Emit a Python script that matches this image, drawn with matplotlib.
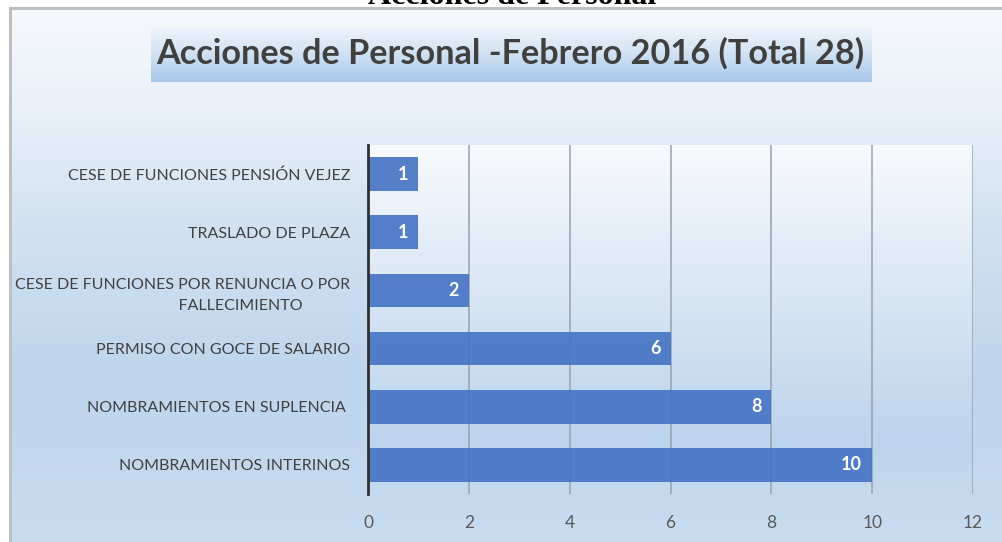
import numpy as np
import matplotlib
matplotlib.use("Agg")
import matplotlib.pyplot as plt
from matplotlib.colors import LinearSegmentedColormap

# ---------------- data ----------------
categories = [
    "NOMBRAMIENTOS INTERINOS",
    "NOMBRAMIENTOS EN SUPLENCIA ",
    "PERMISO CON GOCE DE SALARIO",
    "CESE DE FUNCIONES POR RENUNCIA O POR\n                            FALLECIMIENTO",
    "TRASLADO DE PLAZA",
    "CESE DE FUNCIONES PENSIÓN VEJEZ",
]
values = [10, 8, 6, 2, 1, 1]
xticks = [0, 2, 4, 6, 8, 10, 12]
title = "Acciones de Personal -Febrero 2016 (Total 28)"
doc_heading = "Acciones de Personal"

FONT = ["Lato", "DejaVu Sans"]
W, H = 1002, 542
fig = plt.figure(figsize=(W / 100, H / 100), dpi=100)
fig.patch.set_facecolor("white")

def fx(px):
    return px / W

def fy(py):
    return 1 - py / H

# ---------------- outer chart background ----------------
bg = fig.add_axes([fx(10), 0, 1 - fx(10), fy(8)], zorder=0)
bg_cmap = LinearSegmentedColormap.from_list(
    "bg", [(0, "#F6F9FD"), (0.2, "#E8F0F8"), (0.4, "#D2E2F2"), (0.7, "#BED5EC"), (1.0, "#C8DCF0")])
grad = np.linspace(0, 1, 256).reshape(-1, 1)
bg.imshow(grad, aspect="auto", cmap=bg_cmap, extent=[0, 1, 0, 1], origin="upper")
bg.set_axis_off()

# border lines
fig.add_artist(plt.Line2D([fx(10), 1], [fy(7.5), fy(7.5)], color="#BFBFBF", lw=2.2, zorder=1))
fig.add_artist(plt.Line2D([fx(10), fx(10)], [0, fy(7.5)], color="#BFBFBF", lw=2.2, zorder=1))

# cut-off document heading at the very top
fig.text(fx(512), fy(4), doc_heading, ha="center", va="baseline",
         family=["Liberation Serif"], fontweight="bold", fontsize=23, color="black", zorder=2)

# ---------------- title box ----------------
tb = fig.add_axes([fx(151), fy(82), fx(872 - 151), fy(28) - fy(82)], zorder=2)
tb_cmap = LinearSegmentedColormap.from_list(
    "tb", [(0, "#EEF3FA"), (0.45, "#D3E3F4"), (1.0, "#A7C7E9")])
tb.imshow(grad, aspect="auto", cmap=tb_cmap, extent=[0, 1, 0, 1], origin="upper")
tb.set_axis_off()
fig.text(fx(510), fy(53), title, ha="center", va="center", family=FONT,
         fontweight="bold", fontsize=24.7, color="#404040", zorder=3)

# ---------------- plot area ----------------
ax = fig.add_axes([fx(368), fy(494), fx(973 - 368), fy(145) - fy(494)], zorder=3)
pa_cmap = LinearSegmentedColormap.from_list(
    "pa", [(0, "#F8FAFD"), (0.5, "#D3E3F3"), (0.85, "#BCD4EC"), (1.0, "#C5DAEE")])
ax.imshow(grad, aspect="auto", cmap=pa_cmap, extent=[0, 12, -0.5, 5.5],
          origin="upper", zorder=0)

y = np.arange(len(categories))
bars = ax.barh(y, values, height=0.58, color="#4472C4", alpha=0.9, zorder=2)
for yi, v in zip(y, values):
    ax.text(v - 0.2, yi, str(v), ha="right", va="center", color="white",
            fontweight="bold", fontsize=13, family=FONT, zorder=4)

ax.set_xlim(0, 12)
ax.set_ylim(-0.5, 5.5)
ax.set_xticks(xticks)
ax.set_xticklabels([str(t) for t in xticks], family=FONT, fontsize=12.5, color="#595959")
ax.set_yticks(y)
ax.set_yticklabels(categories, family=FONT, fontsize=11.5, color="#404040",
                   multialignment="center", linespacing=1.65)
ax.tick_params(axis="x", length=0, pad=15)
ax.tick_params(axis="y", length=0, pad=13)
for xv in xticks[1:]:
    ax.axvline(xv, color="#98A1AB", lw=1.1, zorder=1)
for s in ["top", "right", "bottom"]:
    ax.spines[s].set_visible(False)
ax.spines["left"].set_color("#303030")
ax.spines["left"].set_linewidth(2)
ax.spines["left"].set_zorder(5)

fig.savefig("out.png", dpi=100, facecolor="white")
